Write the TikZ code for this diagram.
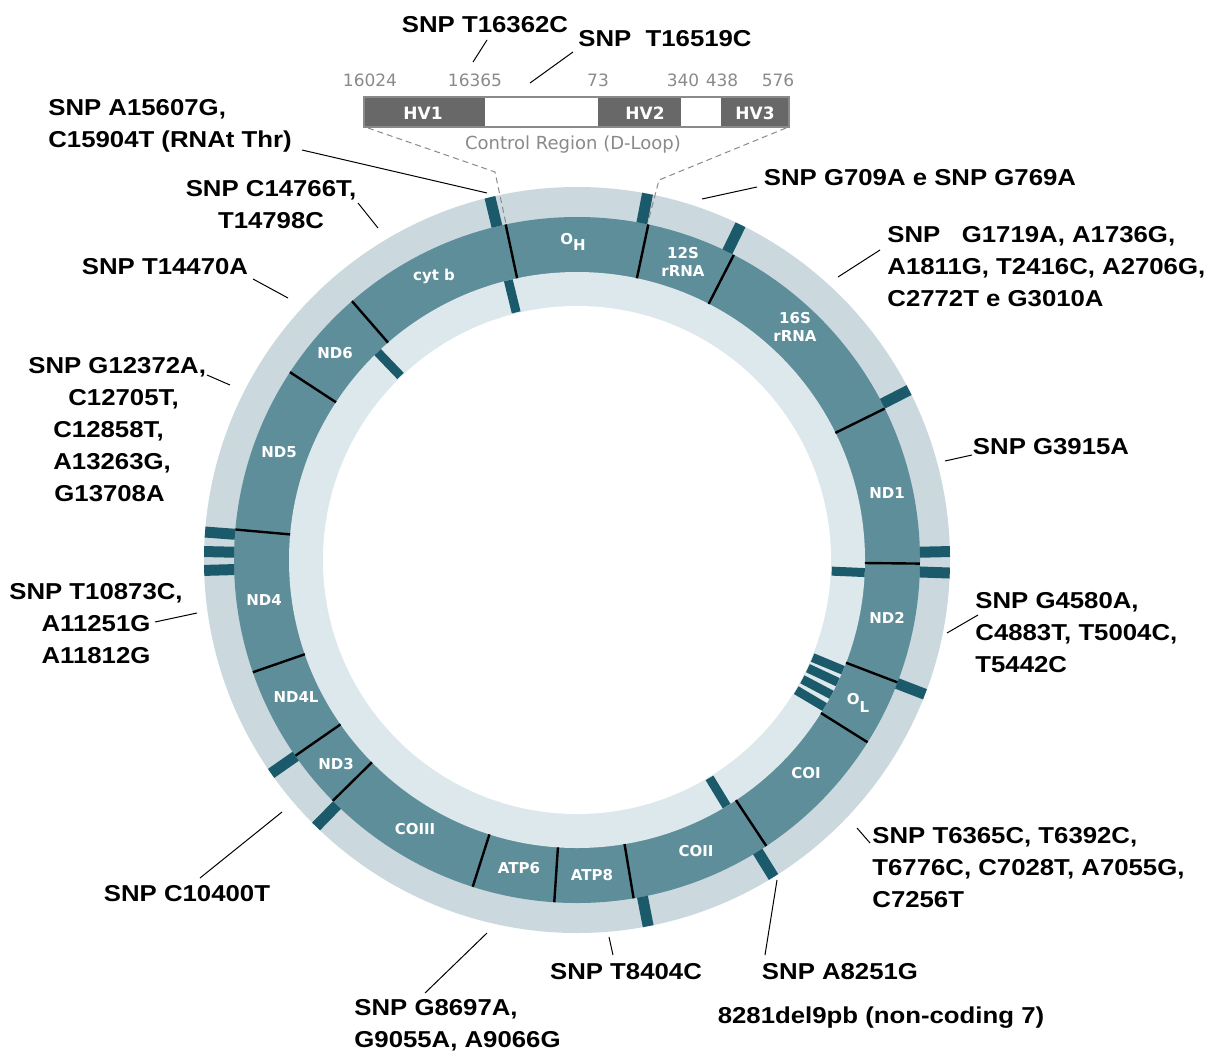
\documentclass[tikz,border=0pt]{standalone}
\usepackage{fontspec}
\setmainfont{Liberation Sans}
\newfontfamily\labfont{Liberation Sans}[FakeStretch=1.12]
\newfontfamily\genefont{DejaVu Sans}
\definecolor{outerc}{HTML}{CBD9DF}
\definecolor{darkc}{HTML}{5F8E9B}
\definecolor{innerc}{HTML}{DDE8EC}
\definecolor{tickc}{HTML}{1B5A6B}
\definecolor{hvc}{HTML}{686868}
\definecolor{numc}{HTML}{8A8A8A}
\begin{document}
\begin{tikzpicture}[x=0.5pt,y=-0.5pt,
  snp/.style={font=\labfont\bfseries\fontsize{11.5}{16}\selectfont, inner sep=0pt, text=black},
  gene/.style={font=\genefont\bfseries\fontsize{7.5}{9}\selectfont, text=white, inner sep=0pt, align=center},
  hvlab/.style={font=\genefont\bfseries\fontsize{8.5}{10}\selectfont, text=white, inner sep=0pt},
  numlab/.style={font=\genefont\fontsize{8.5}{10}\selectfont, text=numc, inner sep=0pt},
  callout/.style={black, line width=0.5pt},
  bound/.style={black, line width=1.2pt},
  otick/.style={tickc, line width=5.5pt},
  itick/.style={tickc, line width=4.5pt},
  dline/.style={numc, line width=0.5pt, dash pattern=on 3pt off 2pt}]
\useasboundingbox (0,0) rectangle (1214,1054);
\fill[white] (0,0) rectangle (1214,1054);

% ---------------- ring ----------------
\begin{scope}[shift={(577,560)}, yscale=-1]
  \fill[outerc] (0,0) circle[radius=373];
  \fill[darkc] (0,0) circle[radius=343];
  \fill[innerc] (0,0) circle[radius=288];
  \fill[white] (0,0) circle[radius=254];
  \foreach \a in {78,62.8,26.2,-0.6,-20.9,-32.1,-56.5,-80.5,-93.8,-107.7,-135.4,-145.2,-160.9,174.9,146.8,131,102}
    \draw[bound] (\a:288) -- (\a:343);
  \foreach \a in {79.1,64,27.1,1.3,-2.0,-21.1,-58.2,-79,214.9,225.6,175.7,178.7,181.6,103.5}
    \draw[otick] (\a:343) -- (\a:373);
  \foreach \a in {103.8,133.8,-2.5,-22.5,-25.1,-27.9,-30.7,-58.7}
    \draw[itick] (\a:255) -- (\a:288);
\end{scope}

% ---------------- gene labels ----------------
\node[gene] (gOH) at (573,242) {O\raisebox{-0.45em}{H}};
\node[gene] (g12) at (683,262) {12S\\rRNA};
\node[gene] (g16) at (795,327) {16S\\rRNA};
\node[gene] (gND1) at (887,493) {ND1};
\node[gene] (gND2) at (887,618) {ND2};
\node[gene] (gOL) at (858,703) {O\raisebox{-0.55em}{L}};
\node[gene] (gCOI) at (806,773) {COI};
\node[gene] (gCOII) at (696,851) {COII};
\node[gene] (gATP8) at (592,875) {ATP8};
\node[gene] (gATP6) at (519,868) {ATP6};
\node[gene] (gCOIII) at (415,829) {COIII};
\node[gene] (gND3) at (336,764) {ND3};
\node[gene] (gND4L) at (296,697) {ND4L};
\node[gene] (gND4) at (264,600) {ND4};
\node[gene] (gND5) at (279,452) {ND5};
\node[gene] (gND6) at (335,353) {ND6};
\node[gene] (gcytb) at (434,276) {cyt b};

% ---------------- control region bar ----------------
\fill[hvc] (364,97) rectangle (485,127);
\fill[white] (485,97) rectangle (598,127);
\fill[hvc] (598,97) rectangle (681,127);
\fill[white] (681,97) rectangle (721,127);
\fill[hvc] (721,97) rectangle (789,127);
\draw[numc, line width=0.6pt] (364,97) rectangle (789,127);
\node[hvlab] (hv1) at (423,113) {HV1};
\node[hvlab] (hv2) at (645,113) {HV2};
\node[hvlab] (hv3) at (755,113) {HV3};
\node[numlab] (n1) at (370,80) {16024};
\node[numlab] (n2) at (475,80) {16365};
\node[numlab] (n3) at (598,80) {73};
\node[numlab] (n4) at (683,80) {340};
\node[numlab] (n5) at (722,80) {438};
\node[numlab] (n6) at (778,80) {576};
\node[numlab, font=\genefont\fontsize{9}{10}\selectfont] (cr) at (573,145) {Control Region (D-Loop)};
\coordinate (dl1) at (368,128);
\coordinate (dl2) at (495,172);
\coordinate (dl3) at (506,224);
\coordinate (dr1) at (786,128);
\coordinate (dr2) at (659,180);
\coordinate (dr3) at (648,222);
\draw[dline] (dl1) -- (dl2) -- (dl3);
\draw[dline] (dr1) -- (dr2) -- (dr3);

% ---------------- SNP labels ----------------
\node[snp] (tA) at (485,25) {SNP T16362C};
\node[snp] (tB) at (665,39) {SNP~~T16519C};
\node[snp, anchor=west, align=left] (tC) at (48,126) {SNP A15607G,\\C15904T (RNAt Thr)};
\node[snp, align=center] (tD) at (271,205) {SNP C14766T,\\T14798C};
\node[snp] (tE) at (165,267) {SNP T14470A};
\node[snp, anchor=west, align=left] (tF) at (28,430) {SNP G12372A,\\\hspace*{20pt}C12705T,\\\hspace*{12.5pt}C12858T,\\\hspace*{12.5pt}A13263G,\\\hspace*{13pt}G13708A};
\node[snp, align=center] (tG) at (96,624) {SNP T10873C,\\A11251G\\A11812G};
\node[snp] (tH) at (187,894) {SNP C10400T};
\node[snp, anchor=west, align=left] (tI) at (354,1025) {SNP G8697A,\\G9055A, A9066G};
\node[snp] (tJ) at (626,972) {SNP T8404C};
\node[snp] (tK) at (840,972) {SNP A8251G};
\node[snp] (tL) at (881,1018) {8281del9pb (non-coding 7)};
\node[snp, anchor=west, align=left] (tM) at (872,868) {SNP T6365C, T6392C,\\T6776C, C7028T, A7055G,\\C7256T};
\node[snp, anchor=west, align=left] (tN) at (975,633) {SNP G4580A,\\C4883T, T5004C,\\T5442C};
\node[snp] (tO) at (1051,447) {SNP G3915A};
\node[snp, anchor=west, align=left] (tP) at (887,267) {SNP~~~G1719A, A1736G,\\A1811G, T2416C, A2706G,\\C2772T e G3010A};
\node[snp] (tQ) at (920,178) {SNP G709A e SNP G769A};

% ---------------- callout lines ----------------
\coordinate (a1) at (487,40);  \coordinate (a2) at (473,62);
\coordinate (b1) at (573,52);  \coordinate (b2) at (530,83);
\coordinate (c1) at (302,150); \coordinate (c2) at (487,193);
\coordinate (d1) at (358,203); \coordinate (d2) at (378,228);
\coordinate (e1) at (253,279); \coordinate (e2) at (288,298);
\coordinate (f1) at (207,375); \coordinate (f2) at (230,385);
\coordinate (g1) at (155,622); \coordinate (g2) at (197,613);
\coordinate (h1) at (200,878); \coordinate (h2) at (282,812);
\coordinate (i1) at (425,993); \coordinate (i2) at (487,933);
\coordinate (j1) at (613,955); \coordinate (j2) at (609,937);
\coordinate (k1) at (765,955); \coordinate (k2) at (777,880);
\coordinate (m1) at (857,828); \coordinate (m2) at (870,843);
\coordinate (n1c) at (947,633); \coordinate (n2c) at (978,615);
\coordinate (o1) at (945,461); \coordinate (o2) at (972,455);
\coordinate (p1) at (838,277); \coordinate (p2) at (880,250);
\coordinate (q1) at (702,199); \coordinate (q2) at (757,187);
\foreach \s/\t in {a1/a2,b1/b2,c1/c2,d1/d2,e1/e2,f1/f2,g1/g2,h1/h2,i1/i2,j1/j2,k1/k2,m1/m2,n1c/n2c,o1/o2,p1/p2,q1/q2}
  \draw[callout] (\s) -- (\t);
\end{tikzpicture}
\end{document}
